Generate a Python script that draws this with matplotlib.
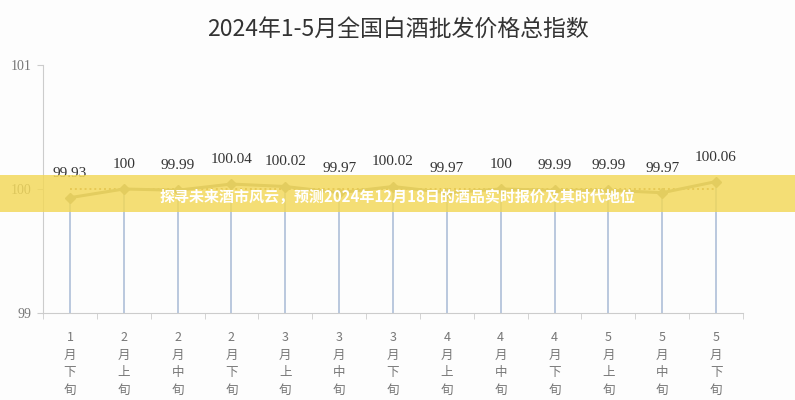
import matplotlib
matplotlib.use("Agg")
import matplotlib.pyplot as plt
from matplotlib.patches import Rectangle
import numpy as np

title = "2024年1-5月全国白酒批发价格总指数"
categories = ["1月下旬", "2月上旬", "2月中旬", "2月下旬", "3月上旬", "3月中旬", "3月下旬",
              "4月上旬", "4月中旬", "4月下旬", "5月上旬", "5月中旬", "5月下旬"]
values = [99.93, 100, 99.99, 100.04, 100.02, 99.97, 100.02, 99.97, 100, 99.99, 99.99, 99.97, 100.06]
value_labels = ["99.93", "100", "99.99", "100.04", "100.02", "99.97", "100.02", "99.97", "100", "99.99", "99.99", "99.97", "100.06"]
yticks = [99, 100, 101]
banner = "探寻未来酒市风云，预测2024年12月18日的酒品实时报价及其时代地位"

cjk = ["Noto Sans CJK SC", "DejaVu Sans"]
serif = ["Liberation Serif", "DejaVu Serif"]

fig = plt.figure(figsize=(7.95, 4.0), dpi=100, facecolor="#fdfdfd")
ax = fig.add_axes([43/795, 87/400, 700/795, 248/400])
ax.set_facecolor("#fdfdfd")

x = np.arange(len(categories))
ax.vlines(x, 99, values, color="#a9bbd6", lw=1.4, alpha=0.8, zorder=1)
ax.hlines(100, x[0], x[-1], color="#b0884a", lw=1.4, linestyles=(0, (1, 1.5)), zorder=2)
ax.plot(x, values, color="#9f9c84", lw=2.2, marker="D", ms=5, mfc="#9f9c84", mec="#9f9c84", zorder=3)

for xi, v, lab in zip(x, values, value_labels):
    ax.annotate(lab, (xi, v), xytext=(0, 13), textcoords="offset points", ha="center", va="bottom",
                fontsize=11, family=serif, color="#333333")

ax.set_xlim(-0.5, len(categories) - 0.5)
ax.set_ylim(99, 101)
ax.set_yticks(yticks)
ax.set_yticklabels([str(t) for t in yticks], family=serif, fontsize=10, color="#777777")
ax.set_xticks(x)
ax.set_xticklabels(["\n".join([c[:-3]] + list(c[-3:])) for c in categories],
                   family=cjk, fontsize=9, color="#777777", linespacing=1.45)
ax.set_xticks(np.arange(-0.5, len(categories)), minor=True)
ax.tick_params(axis="x", which="major", length=0, pad=13)
ax.tick_params(axis="x", which="minor", length=4, color="#cccccc")
ax.tick_params(axis="y", length=4, color="#cccccc", pad=4)
for s in ["top", "right"]:
    ax.spines[s].set_visible(False)
for s in ["left", "bottom"]:
    ax.spines[s].set_color("#cccccc")

fig.text(0.5, 1 - 29/400, title, ha="center", va="center", fontsize=16.5, family=cjk, color="#333333")

fig.patches.append(Rectangle((0, 1 - 212/400), 1, 37/400, transform=fig.transFigure,
                             facecolor="#f3d857", alpha=0.82, zorder=5, edgecolor="none"))
fig.text(397/795, 1 - 197/400, banner, ha="center", va="center", fontsize=10.8, family=cjk,
         fontweight="bold", color="white", zorder=6)

fig.savefig("out.png", dpi=100, facecolor=fig.get_facecolor())
